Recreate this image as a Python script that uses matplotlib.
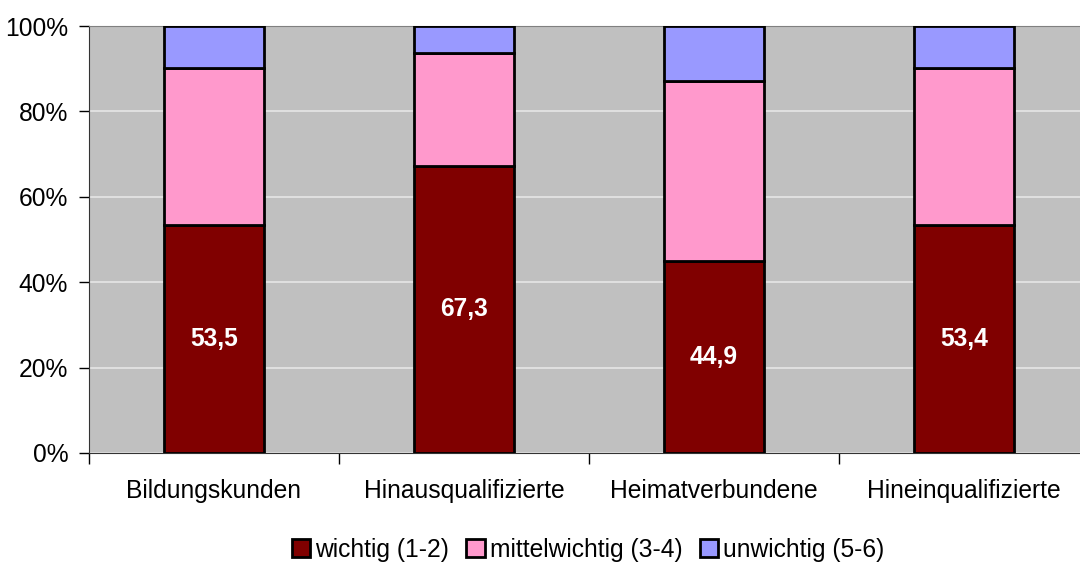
import numpy as np
import matplotlib
matplotlib.use("Agg")
from matplotlib import pyplot as plt
from matplotlib.patches import Patch

plt.rcParams['font.family'] = ['Liberation Sans', 'DejaVu Sans']

# shares per group in percent
categories = ["Bildungskunden", "Hinausqualifizierte", "Heimatverbundene", "Hineinqualifizierte"]
wichtig = [53.5, 67.3, 44.9, 53.4]
mittelwichtig = [36.6, 26.3, 42.3, 36.8]
unwichtig = [9.9, 6.4, 12.8, 9.8]
series_names = ["wichtig (1-2)", "mittelwichtig (3-4)", "unwichtig (5-6)"]
colors = ["#800000", "#FF99CC", "#9999FF"]

fs = 17.7

fig = plt.figure(figsize=(10.8, 5.63), dpi=100)
ax = fig.add_axes([89/1080, 110/563, 1000/1080, 427/563])
ax.set_facecolor("#C0C0C0")

x = np.arange(len(categories))
w = 0.4
bottom = np.zeros(len(categories))
for vals, col in zip([wichtig, mittelwichtig, unwichtig], colors):
    ax.bar(x, vals, w, bottom=bottom, color=col, edgecolor="black", linewidth=2, zorder=3)
    bottom += np.array(vals)

for xi, v in zip(x, wichtig):
    ax.text(xi, v / 2, f"{v:.1f}".replace(".", ","), ha="center", va="center",
            color="white", fontweight="bold", fontsize=fs, zorder=4)

ax.set_xlim(-0.5, 3.5)
ax.set_ylim(0, 100)
ax.set_yticks([0, 20, 40, 60, 80, 100])
ax.set_yticklabels([f"{t}%" for t in range(0, 101, 20)], fontsize=fs)
ax.yaxis.grid(True, color="#E6E6E6", linewidth=1.2, zorder=1)
ax.set_axisbelow(True)

ax.set_xticks(x)
ax.set_xticklabels(categories, fontsize=fs)
ax.tick_params(axis="x", length=0, pad=19)
ax.set_xticks(np.arange(-0.5, 4, 1), minor=True)
ax.tick_params(axis="x", which="minor", length=8, width=1, direction="out")
ax.tick_params(axis="y", length=7, width=1, direction="out", pad=8)

ax.spines["right"].set_visible(False)
ax.spines["top"].set_color("#808080")
ax.spines["left"].set_color("#333333")
ax.spines["bottom"].set_color("#333333")

handles = [Patch(facecolor=c, edgecolor="black", linewidth=2) for c in colors]
fig.legend(handles, series_names, loc="center", bbox_to_anchor=(588/1080, 1 - 550/563),
           ncol=3, frameon=False, fontsize=fs, handlelength=0.75, handleheight=0.75,
           handletextpad=0.2, columnspacing=0.7)

fig.savefig("out.png", dpi=100)
